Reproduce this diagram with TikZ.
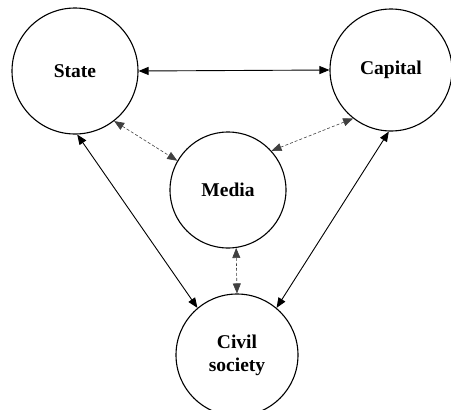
\documentclass[tikz,border=0pt]{standalone}
\usepackage{fontspec}
\setmainfont{Liberation Serif}
\usetikzlibrary{arrows.meta}
\begin{document}
\begin{tikzpicture}[x=1pt,y=-1pt,
  actor/.style={circle,draw,line width=1.1pt,inner sep=0pt,font=\fontsize{19.5}{23}\selectfont\bfseries,align=center},
  link/.style={line width=0.9pt,{Triangle[length=10pt,width=8pt]}-{Triangle[length=10pt,width=8pt]}},
  weaklink/.style={line width=0.6pt,densely dashed,draw=black!75,{Triangle[length=10pt,width=8pt]}-{Triangle[length=10pt,width=8pt]}}]
\useasboundingbox (0,0) rectangle (451,410);
\node[actor,minimum size=126pt] (state) at (75,71) {State};
\node[actor,minimum size=122pt] (capital) at (391,70) {Capital};
\node[actor,minimum size=116pt] (media) at (228,190) {Media};
\node[actor,minimum size=122pt] (civil) at (237,355) {Civil\\society};
\draw[link] (state.east) -- (capital.west);
\draw[weaklink] (state.-52) -- (media.150);
\draw[weaklink] (capital.-128) -- (media.42);
\draw[link] (state.-88) -- (civil.130);
\draw[link] (capital.-92) -- (civil.50);
\draw[weaklink] (media.-82) -- (civil.90);
\end{tikzpicture}
\end{document}
